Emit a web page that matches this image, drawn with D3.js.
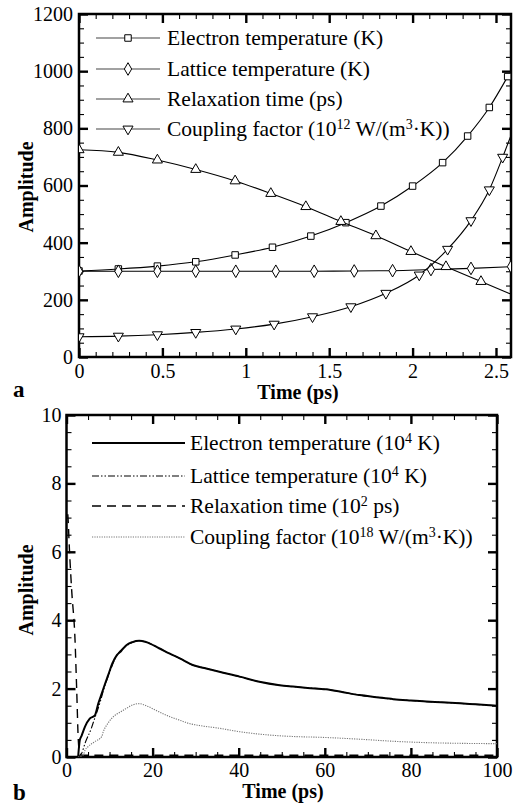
<!DOCTYPE html>
<html>
<head>
<meta charset="utf-8">
<script src="https://cdn.jsdelivr.net/npm/d3@7"></script>
<style>
  body { margin: 0; background: #fff; }
  text { font-family: "Liberation Serif", "Times New Roman", serif; }
</style>
</head>
<body>
<div id="chart"></div>
<script>
/**
 * Data - panel a (temperatures etc. vs time, markers on curves)
 */
const electronTimeA = [0, 0.236, 0.47, 0.70, 0.936, 1.16, 1.39, 1.60, 1.81, 2.00, 2.18, 2.33, 2.46, 2.57];
const electronValA = [301, 308, 318, 333, 357, 384, 423, 470, 528, 598, 680, 773, 873, 981];

const latticeTimeA = [0, 0.236, 0.47, 0.70, 0.94, 1.18, 1.41, 1.65, 1.88, 2.11, 2.35, 2.59];
const latticeValA = [300, 300, 300, 300, 300, 300, 300, 301, 302, 306, 310, 316];

const relaxTimeA = [0, 0.236, 0.47, 0.70, 0.936, 1.15, 1.36, 1.57, 1.78, 1.99, 2.20, 2.41, 2.59];
const relaxValA = [725, 716, 689, 656, 616, 572, 526, 474, 424, 369, 316, 264, 220];

const couplingTimeA = [0, 0.236, 0.47, 0.70, 0.94, 1.17, 1.40, 1.63, 1.84, 2.04, 2.21, 2.35, 2.46, 2.54, 2.59];
const couplingValA = [71, 73, 78, 86, 98, 115, 141, 176, 223, 287, 377, 477, 585, 699, 775];

/**
 * Data - panel b (lines only)
 */
const electronTimeB = [2.7, 3.1, 3.5, 4.3, 5.4, 6.6, 7.4, 8.2, 8.9, 9.7, 10.7, 11.7, 12.7, 13.9, 15.3, 16.9, 18.5, 21.5, 24, 26.2, 29.3, 32, 35.5, 40.2, 44.8, 49.5, 52.6, 56, 60.3, 64, 68.1, 72, 75.9, 80, 83.6, 87, 91.4, 95, 100];
const electronValB = [0, 0.5, 0.62, 0.89, 1.12, 1.22, 1.57, 1.86, 2.12, 2.4, 2.75, 2.98, 3.1, 3.27, 3.36, 3.40, 3.36, 3.18, 3.02, 2.89, 2.69, 2.6, 2.49, 2.35, 2.2, 2.1, 2.06, 2.02, 1.98, 1.9, 1.81, 1.75, 1.69, 1.65, 1.62, 1.6, 1.57, 1.54, 1.5];

const latticeTimeB = [2.7, 3.5, 4.3, 5.8, 6.2, 7.8, 8.7, 10.1, 11.2, 12.0, 13.1, 14.5, 15.3, 16.9, 18.5, 21.5, 24, 26.2, 29.3, 32, 35.5, 40.2, 44.8, 49.5, 52.6, 56, 60.3, 64, 68.1, 72, 75.9, 80, 83.6, 87, 91.4, 95, 100];
const latticeValB = [0, 0.1, 0.4, 0.85, 1.0, 1.6, 2.0, 2.5, 2.85, 3.03, 3.18, 3.3, 3.35, 3.40, 3.36, 3.18, 3.02, 2.89, 2.69, 2.6, 2.49, 2.35, 2.2, 2.1, 2.06, 2.02, 1.98, 1.9, 1.81, 1.75, 1.69, 1.65, 1.62, 1.6, 1.57, 1.54, 1.5];

const relaxTimeB = [0.3, 0.42, 0.58, 1.2, 1.98, 2.37, 2.74, 3.1, 3.6, 100];
const relaxValB = [7.1, 6.84, 6.35, 4.88, 3.42, 1.96, 0.5, 0.1, 0.05, 0.05];

const couplingTimeB = [2.7, 3.9, 4.3, 5.0, 6.6, 8.2, 8.5, 9.7, 10.9, 12.3, 13.9, 15.3, 16.9, 18.5, 21.5, 24, 26.2, 28.5, 30.9, 35.5, 40.2, 44.8, 49.5, 52.6, 60.3, 68.1, 75.9, 83.6, 91.4, 100];
const couplingValB = [0, 0.06, 0.2, 0.3, 0.45, 0.6, 0.72, 1.0, 1.18, 1.3, 1.42, 1.52, 1.56, 1.5, 1.32, 1.18, 1.08, 0.98, 0.92, 0.84, 0.74, 0.67, 0.62, 0.6, 0.57, 0.52, 0.46, 0.42, 0.4, 0.39];

/**
 * Tick labels and legend labels ([text, superscript?] pieces)
 */
const xTicksA = [0, 0.5, 1, 1.5, 2, 2.5];
const yTicksA = [0, 200, 400, 600, 800, 1000, 1200];
const xTicksB = [0, 20, 40, 60, 80, 100];
const yTicksB = [0, 2, 4, 6, 8, 10];

const legendA = [
  [["Electron temperature (K)", false]],
  [["Lattice temperature (K)", false]],
  [["Relaxation time (ps)", false]],
  [["Coupling factor (10", false], ["12", true], [" W/(m", false], ["3", true], ["\u00b7K))", false]]
];
const legendB = [
  [["Electron temperature (10", false], ["4", true], [" K)", false]],
  [["Lattice temperature (10", false], ["4", true], [" K)", false]],
  [["Relaxation time (10", false], ["2", true], [" ps)", false]],
  [["Coupling factor (10", false], ["18", true], [" W/(m", false], ["3", true], ["\u00b7K))", false]]
];

/**
 * Basic Settings
 */
const canvasWidth = 521;
const canvasHeight = 807;

const svg = d3.select("#chart")
  .append("svg")
  .attr("width", canvasWidth)
  .attr("height", canvasHeight)
  .style("background", "#fff");

const zip = (ts, vs) => ts.map((t, i) => ({ t: t, v: vs[i] }));

/**
 * Panel frame, axes with inward ticks
 */
function drawPanel(cfg) {
  const w = cfg.right - cfg.left;
  const h = cfg.bottom - cfg.top;
  const g = svg.append("g").attr("transform", "translate(" + cfg.left + "," + cfg.top + ")");

  const x = d3.scaleLinear().domain(cfg.xDomain).range([0, w]);
  const y = d3.scaleLinear().domain(cfg.yDomain).range([h, 0]);

  g.append("clipPath").attr("id", cfg.id + "-clip")
    .append("rect").attr("width", w).attr("height", h);

  const major = 9, minor = 5;
  const addAxis = (axis, tr, cls) => {
    const a = g.append("g").attr("class", cls).attr("transform", tr).call(axis);
    a.select(".domain").remove();
    return a;
  };

  // major ticks
  addAxis(d3.axisBottom(x).tickValues(cfg.xTicks).tickSize(-major).tickPadding(cfg.xPad).tickFormat(d3.format("~g")),
    "translate(0," + h + ")", "major");
  addAxis(d3.axisTop(x).tickValues(cfg.xTicks).tickSize(-major).tickFormat(""), "translate(0,0)", "major");
  addAxis(d3.axisLeft(y).tickValues(cfg.yTicks).tickSize(-major).tickPadding(cfg.yPad).tickFormat(d3.format("~g")),
    "translate(0,0)", "major");
  addAxis(d3.axisRight(y).tickValues(cfg.yTicks).tickSize(-major).tickFormat(""), "translate(" + w + ",0)", "major");

  // minor ticks
  addAxis(d3.axisBottom(x).tickValues(cfg.xMinor).tickSize(-minor).tickFormat(""), "translate(0," + h + ")", "minor");
  addAxis(d3.axisTop(x).tickValues(cfg.xMinor).tickSize(-minor).tickFormat(""), "translate(0,0)", "minor");
  addAxis(d3.axisLeft(y).tickValues(cfg.yMinor).tickSize(-minor).tickFormat(""), "translate(0,0)", "minor");
  addAxis(d3.axisRight(y).tickValues(cfg.yMinor).tickSize(-minor).tickFormat(""), "translate(" + w + ",0)", "minor");

  g.selectAll(".major line").attr("stroke", "#000").attr("stroke-width", 2.4);
  g.selectAll(".minor line").attr("stroke", "#000").attr("stroke-width", 1.1);
  g.selectAll(".major text")
    .style("font-family", "'Liberation Serif', serif")
    .style("font-size", "20px")
    .attr("fill", "#000");

  g.append("rect")
    .attr("width", w).attr("height", h)
    .attr("fill", "none").attr("stroke", "#000").attr("stroke-width", 2.5);

  // axis titles + panel letter
  svg.append("text")
    .attr("transform", "translate(" + cfg.yTitle[0] + "," + cfg.yTitle[1] + ") rotate(-90)")
    .attr("text-anchor", "middle")
    .style("font-weight", "bold").style("font-size", "20px")
    .text("Amplitude");
  svg.append("text")
    .attr("x", cfg.xTitle[0]).attr("y", cfg.xTitle[1])
    .attr("text-anchor", "middle")
    .style("font-weight", "bold").style("font-size", "20px")
    .text("Time (ps)");
  svg.append("text")
    .attr("x", 13).attr("y", cfg.letterY)
    .style("font-weight", "bold").style("font-size", "23px")
    .text(cfg.letter);

  return { g: g, x: x, y: y, clip: "url(#" + cfg.id + "-clip)" };
}

function drawLegend(rows, cfg) {
  rows.forEach(function(row, i) {
    const ly = cfg.rowsY[i];
    const s = cfg.series[i];
    svg.append("line")
      .attr("x1", cfg.x1).attr("x2", cfg.x2).attr("y1", ly).attr("y2", ly)
      .attr("stroke", cfg.lineColor || s.color)
      .attr("stroke-width", s.width)
      .attr("stroke-dasharray", s.dash || null);
    if (s.symbol) {
      svg.append("path")
        .attr("transform", "translate(" + ((cfg.x1 + cfg.x2) / 2) + "," + ly + ") rotate(" + (s.rotate || 0) + ")")
        .attr("d", d3.symbol().type(s.symbol).size(s.size)())
        .attr("fill", "#fff").attr("stroke", "#000").attr("stroke-width", 1);
    }
    const t = svg.append("text")
      .attr("x", cfg.textX).attr("y", ly).attr("dy", "0.33em")
      .style("font-size", cfg.fontSize + "px");
    row.forEach(function(piece) {
      if (piece[1]) {
        t.append("tspan").attr("dy", -7).style("font-size", (cfg.fontSize * 0.65) + "px").text(piece[0]);
      } else {
        const sp = t.append("tspan").text(piece[0]);
        if (t.selectAll("tspan").size() > 1) sp.attr("dy", 7);
      }
    });
  });
}

/**
 * Panel a
 */
const panelA = drawPanel({
  id: "pa", left: 79, top: 14, right: 511, bottom: 357,
  xDomain: [0, 2.59], yDomain: [0, 1200],
  xTicks: xTicksA, yTicks: yTicksA,
  xMinor: d3.range(0, 26).map(i => i / 10).filter(v => Math.round(v * 10) % 5 !== 0),
  yMinor: d3.range(0, 1201, 50).filter(v => v % 200 !== 0),
  xPad: 7, yPad: 6,
  yTitle: [33, 187], xTitle: [298, 399], letter: "a", letterY: 397
});

const seriesA = [
  { data: zip(electronTimeA, electronValA), symbol: d3.symbolSquare, size: 42, marked: electronTimeA.length, color: "#000", width: 1.1 },
  { data: zip(latticeTimeA, latticeValA), symbol: d3.symbolDiamond, size: 46, marked: latticeTimeA.length, color: "#000", width: 1.1 },
  { data: zip(relaxTimeA, relaxValA), symbol: d3.symbolTriangle, size: 44, marked: relaxTimeA.length - 1, color: "#000", width: 1.1 },
  { data: zip(couplingTimeA, couplingValA), symbol: d3.symbolTriangle, size: 44, rotate: 180, marked: couplingTimeA.length - 1, color: "#000", width: 1.1 }
];

const lineA = d3.line()
  .x(d => panelA.x(d.t))
  .y(d => panelA.y(d.v))
  .curve(d3.curveMonotoneX);

seriesA.forEach(function(s) {
  const sg = panelA.g.append("g").attr("clip-path", panelA.clip);
  sg.append("path")
    .datum(s.data)
    .attr("d", lineA)
    .attr("fill", "none").attr("stroke", s.color).attr("stroke-width", s.width);
  sg.selectAll("path.mark")
    .data(s.data.slice(0, s.marked))
    .enter()
    .append("path")
    .attr("class", "mark")
    .attr("transform", d => "translate(" + panelA.x(d.t) + "," + panelA.y(d.v) + ") rotate(" + (s.rotate || 0) + ")")
    .attr("d", d3.symbol().type(s.symbol).size(s.size)())
    .attr("fill", "#fff").attr("stroke", "#000").attr("stroke-width", 1);
});

drawLegend(legendA, {
  rowsY: [38, 69, 99, 129], x1: 96, x2: 160, textX: 167, fontSize: 21.5,
  lineColor: "#444", series: seriesA
});

/**
 * Panel b
 */
const panelB = drawPanel({
  id: "pb", left: 66.5, top: 415, right: 497, bottom: 757,
  xDomain: [0, 100], yDomain: [0, 10],
  xTicks: xTicksB, yTicks: yTicksB,
  xMinor: d3.range(0, 101, 5).filter(v => v % 20 !== 0),
  yMinor: d3.range(0, 21).map(i => i / 2).filter(v => v % 2 !== 0),
  xPad: 6, yPad: 5,
  yTitle: [33, 590], xTitle: [283, 798], letter: "b", letterY: 800
});

const seriesB = [
  { data: zip(latticeTimeB, latticeValB), color: "#000", width: 1.1, dash: "7,2,1.5,2,1.5,2" },
  { data: zip(electronTimeB, electronValB), color: "#000", width: 2 },
  { data: zip(relaxTimeB, relaxValB), color: "#000", width: 1.4, dash: "9,6" },
  { data: zip(couplingTimeB, couplingValB), color: "#777", width: 1.1, dash: "1.2,1.2" }
];

const lineB = d3.line()
  .x(d => panelB.x(d.t))
  .y(d => panelB.y(d.v))
  .curve(d3.curveMonotoneX);

seriesB.forEach(function(s) {
  panelB.g.append("path")
    .datum(s.data)
    .attr("clip-path", panelB.clip)
    .attr("d", lineB)
    .attr("fill", "none")
    .attr("stroke", s.color)
    .attr("stroke-width", s.width)
    .attr("stroke-dasharray", s.dash || null);
});

drawLegend(legendB, {
  rowsY: [443, 476, 506, 537], x1: 92, x2: 185, textX: 190, fontSize: 21.5,
  series: [seriesB[1], seriesB[0], seriesB[2], seriesB[3]]
});
</script>
</body>
</html>
